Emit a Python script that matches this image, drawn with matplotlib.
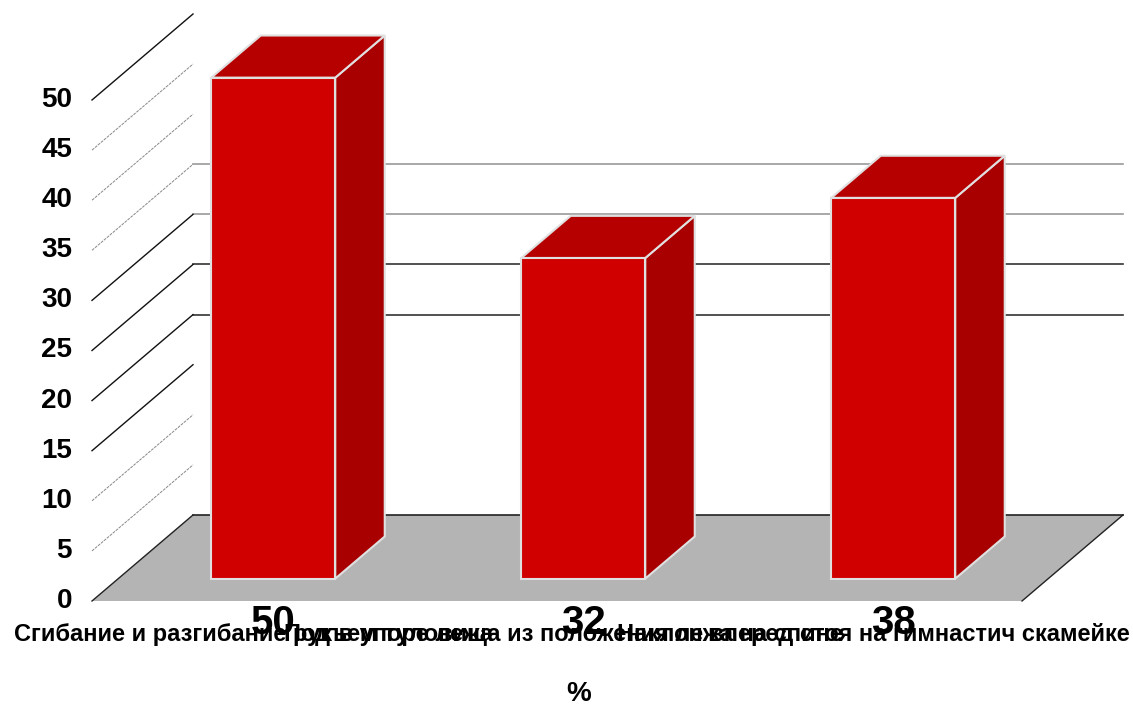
import matplotlib
matplotlib.use("Agg")
import matplotlib.pyplot as plt
from matplotlib.patches import Polygon
import numpy as np

# ---- data ----
categories = ["Сгибание и разгибание рук в упоре лежа",
              "Подъем туловища из положения лежа на спине",
              "Наклон вперед стоя на гимнастич скамейке"]
values = [50, 32, 38]
y_ticks = [0, 5, 10, 15, 20, 25, 30, 35, 40, 45, 50]
x_title = "%"

plt.rcParams['font.family'] = ['Liberation Sans', 'DejaVu Sans']

W, H = 1133, 706
fig = plt.figure(figsize=(W / 100, H / 100), dpi=100)
ax = fig.add_axes([0, 0, 1, 1])
ax.axis('off')

# pixel-based layout of the pseudo-3D plot area
PX0, PY0 = 92, 601          # front-left floor corner
PX_CAT = 310.0              # pixels per category
PX_VAL = 10.02              # pixels per value unit
def X(px): return (px - PX0) / PX_CAT - 0.5
def Y(py): return (PY0 - py) / PX_VAL
ax.set_xlim(X(0), X(W))
ax.set_ylim(Y(H), Y(0))

DX = 101 / PX_CAT           # depth shift (category units)
DY = 86 / PX_VAL            # depth shift (value units)
n = len(categories)
xmin, xmax = -0.5, n - 0.5

# floor
floor = Polygon([(xmin, 0), (xmax, 0), (xmax + DX, DY), (xmin + DX, DY)],
                closed=True, facecolor='#b4b4b4', edgecolor='none', zorder=1)
ax.add_patch(floor)
ax.plot([xmin, xmin + DX], [0, DY], color='#222222', lw=1, zorder=2)
ax.plot([xmax, xmax + DX], [0, DY], color='#222222', lw=1, zorder=2)
ax.plot([xmin + DX, xmax + DX], [DY, DY], color='#222222', lw=1.2, zorder=2)

# back wall grid lines (only some visible in the reference)
back_styles = {20: '#333333', 25: '#333333', 30: '#999999', 35: '#999999'}
for v, c in back_styles.items():
    ax.plot([xmin + DX, xmax + DX], [v + DY, v + DY], color=c, lw=1.2, zorder=1)

# side wall diagonal lines
dark = {15, 20, 25, 30, 50}
for v in y_ticks:
    if v == 0:
        continue
    if v in dark:
        ax.plot([xmin, xmin + DX], [v, v + DY], color='#111111', lw=1.0, zorder=1)
    else:
        ax.plot([xmin, xmin + DX], [v, v + DY], color='#888888', lw=0.7,
                ls=(0, (3, 1)), zorder=1)

# y tick labels
for v in y_ticks:
    ax.text(X(72), v, str(v), ha='right', va='center', fontsize=20,
            fontweight='bold', color='black', zorder=5)

# bars
d0, d1 = 0.26, 0.75
bw = 0.40
front_c, top_c, side_c, edge_c = '#d00000', '#b60000', '#a80000', '#e0e0e0'
xs = np.arange(n)
fx = xs + d0 * DX
ax.bar(fx, values, width=bw, bottom=d0 * DY, color=front_c,
       edgecolor=edge_c, linewidth=1.5, zorder=4)
for xi, v in zip(fx, values):
    l, r = xi - bw / 2, xi + bw / 2
    b, t = d0 * DY, v + d0 * DY
    ddx, ddy = (d1 - d0) * DX, (d1 - d0) * DY
    side = Polygon([(r, b), (r + ddx, b + ddy), (r + ddx, t + ddy), (r, t)],
                   closed=True, facecolor=side_c, edgecolor=edge_c, lw=1.5, zorder=3)
    top = Polygon([(l, t), (r, t), (r + ddx, t + ddy), (l + ddx, t + ddy)],
                  closed=True, facecolor=top_c, edgecolor=edge_c, lw=1.5, zorder=3)
    ax.add_patch(side)
    ax.add_patch(top)

# category labels
for xi, lab in zip(xs, categories):
    ax.text(xi + 0.02, Y(635), lab, ha='center', va='center', fontsize=17,
            fontweight='bold', color='black', zorder=5)

# value labels
for xi, v in zip(fx, values):
    ax.text(xi, Y(623), str(v), ha='center', va='center', fontsize=29,
            fontweight='bold', color='black', zorder=6)

ax.text(X(579), Y(694), x_title, ha='center', va='center', fontsize=20,
        fontweight='bold', color='black')

fig.savefig('out.png', dpi=100)
